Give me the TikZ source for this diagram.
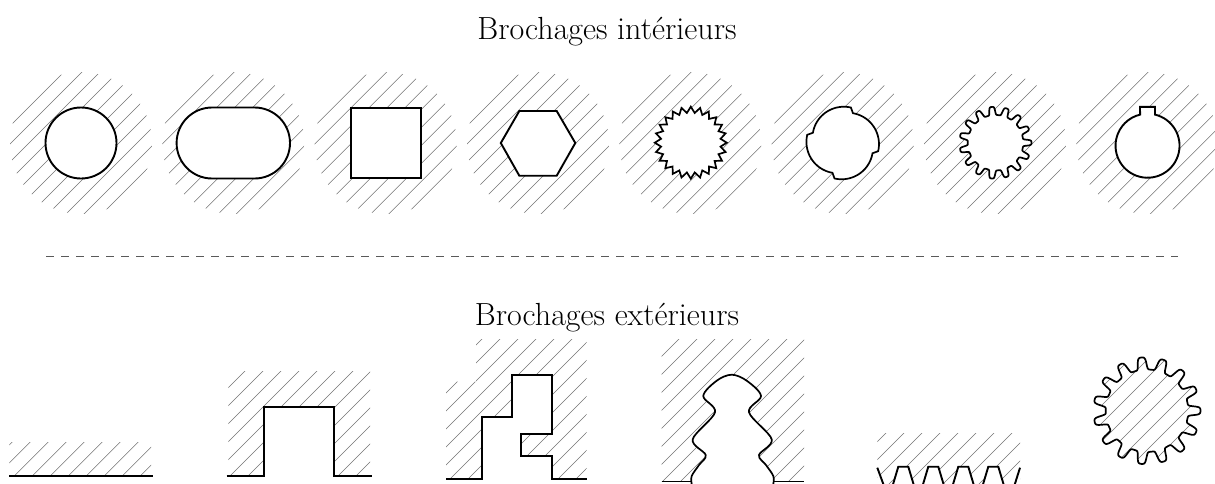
\documentclass[tikz,border=0pt]{standalone}
\tikzset{
  hatchline/.style={line width=0.6pt,draw=black!55},
  outline/.style={line width=1.9pt,draw=black,fill=white,line join=miter},
  profil/.style={line width=1.9pt,draw=black},
  titre/.style={font=\fontsize{32}{38}\selectfont,inner sep=0pt,anchor=base},
  rat/.style={samples=30,domain=0:84}
}
% lines x+y=s, s=#1+18k, k=0..#2, spanning x from #3 to #4
\newcommand{\hatchset}[4]{%
  \foreach \k in {0,...,#2}{%
    \pgfmathsetmacro{\ss}{#1+18*\k}%
    \draw[hatchline] (#3,{\ss-(#3)}) -- (#4,{\ss-(#4)});%
  }}
\newcommand{\hatchdisc}[1]{%
  \begin{scope}
    \clip (#1,143) circle [radius=71pt];
    \pgfmathsetmacro{\sz}{#1+143-88}%
    \hatchset{\sz}{10}{#1-80}{#1+80}
  \end{scope}}
\newcommand{\gearrad}{(0.77+0.23*(tanh(2.5*(cos(15*\x)-0.2))+0.995)/1.959)}
\newcommand{\gearcurve}[3]{%
  plot[samples=721,domain=0:360] ({#1+#3*\gearrad*cos(\x)},{#2-#3*\gearrad*sin(\x)})}
\newcommand{\ratR}{(31.5+4.9*sin(1.07*\x))}
\newcommand{\ratX}[1]{842.7+\ratR*cos(#1-4-\x)}
\newcommand{\ratY}[1]{143-\ratR*sin(#1-4-\x)}
\begin{document}
\begin{tikzpicture}[x=1pt,y=-1pt]
\useasboundingbox (0,0) rectangle (1215,483);
\clip (0,0) rectangle (1215,483);

\node[titre] (t1) at (607,39) {Brochages intérieurs};
\node[titre] (t2) at (607,325.5) {Brochages extérieurs};
\draw[line width=0.6pt,draw=black!65,dash pattern=on 8pt off 7pt] (46,256) -- (1178,256);

% --- interior broaching ---
\hatchdisc{81}
\draw[outline] (81,143) circle [radius=35.5pt];

\hatchdisc{233.3}
\draw[outline] (212.1,107.5) -- (254.5,107.5) arc[start angle=90,end angle=-90,radius=35.5pt]
  -- (212.1,178.5) arc[start angle=270,end angle=90,radius=35.5pt] -- cycle;

\hatchdisc{385.7}
\draw[outline] (350.6,108) rectangle (421.2,178);

\hatchdisc{538}
\draw[outline] (575.3,143) -- (556.7,175.7) -- (519.3,175.7) -- (500.8,143) -- (519.3,111) -- (556.7,111) -- cycle;

\hatchdisc{690.3}
\draw[line width=1.7pt,draw=black,fill=white,line join=miter]
  plot[samples=49,domain=0:360] ({690.8+(33+3*cos(24*\x))*cos(\x)},{142.7-(33+3*cos(24*\x))*sin(\x)}) -- cycle;

\hatchdisc{842.7}
\draw[line width=1.7pt,draw=black,fill=white,line join=miter]
  plot[rat] ({\ratX{75}},{\ratY{75}}) -- plot[rat] ({\ratX{-15}},{\ratY{-15}})
  -- plot[rat] ({\ratX{-105}},{\ratY{-105}}) -- plot[rat] ({\ratX{165}},{\ratY{165}}) -- cycle;

\hatchdisc{995}
\draw[line width=1.7pt,draw=black,fill=white,line join=round] \gearcurve{995.5}{142.7}{36} -- cycle;

\hatchdisc{1147.3}
\draw[outline] (1155,114.6) arc[start angle=76.5,end angle=-256.5,radius=32pt]
  -- (1140,106.8) -- (1155,106.8) -- cycle;

% --- exterior broaching ---
\begin{scope}
  \clip (9.3,442.7) rectangle (151,476);
  \hatchset{454.3}{9}{0}{170}
\end{scope}
\draw[profil] (9.3,476) -- (152.7,476);

\begin{scope}
  \clip (228.3,371) rectangle (370,476);
  \hatchset{598}{14}{220}{380}
\end{scope}
\fill[white] (264.3,406.7) rectangle (334,483);
\draw[profil] (226.7,476) -- (264.3,476) -- (264.3,406.7) -- (334,406.7) -- (334,476) -- (371.7,476);

\begin{scope}
  \clip (476,339) -- (586.7,339) -- (586.7,479.3) -- (446,479.3) -- (446,381.7) -- (476,381.7) -- cycle;
  \hatchset{821}{14}{440}{600}
\end{scope}
\fill[white] (481.7,483) -- (481.7,417.3) -- (512.3,417.3) -- (512.3,374.7) -- (551.7,374.7) -- (551.7,434)
  -- (521.3,434) -- (521.3,456) -- (551.7,456) -- (551.7,483) -- cycle;
\draw[line width=1.7pt,line join=miter] (446,479.3) -- (481.7,479.3) -- (481.7,417.3) -- (512.3,417.3) -- (512.3,374.7) -- (551.7,374.7) -- (551.7,434)
  -- (521.3,434) -- (521.3,456) -- (551.7,456) -- (551.7,479.3) -- (586.7,479.3);

\begin{scope}
  \clip (661.5,339.3) rectangle (804,481);
  \hatchset{1018}{17}{650}{820}
\end{scope}
\draw[line width=1.7pt,fill=white,line join=round]
  plot[smooth,tension=0.55] coordinates {(691.7,484) (691.7,476) (699,465) (705.7,455) (692.7,439.3) (715,412.3) (703.3,396) (716.7,380.7) (731.7,374.7) (746.7,380.7) (761,396) (749,412.3) (771.7,439.3) (759,455) (766,465) (773.3,476) (773.3,484)};
\draw[line width=1.7pt] (661.5,481.5) -- (691.7,481.5);
\draw[line width=1.7pt] (773.3,481.5) -- (804,481.5);

\begin{scope}
  \clip (877.3,433.3) rectangle (1020,483);
  \hatchset{1319}{10}{870}{1030}
\end{scope}
\fill[white] (877.3,467.7) -- (885.5,490) -- (877.3,490) -- cycle;
\draw[line width=1.9pt] (877.3,467.7) -- (885.5,490);
\foreach \c in {903.3,933.3,963.3,993.3}{
  \draw[line width=1.9pt,fill=white,line join=miter] (\c-12,490) -- (\c-5,466.7) -- (\c+5,466.7) -- (\c+12,490);
}
\fill[white] (1020,467.7) -- (1013,490) -- (1020,490) -- cycle;
\draw[line width=1.9pt] (1020,467.7) -- (1013,490);

\begin{scope}
  \clip \gearcurve{1147}{410.7}{53.5} -- cycle;
  \hatchset{1471}{9}{1080}{1210}
\end{scope}
\draw[line width=1.7pt,draw=black,line join=round] \gearcurve{1147}{410.7}{53.5} -- cycle;
\end{tikzpicture}
\end{document}
